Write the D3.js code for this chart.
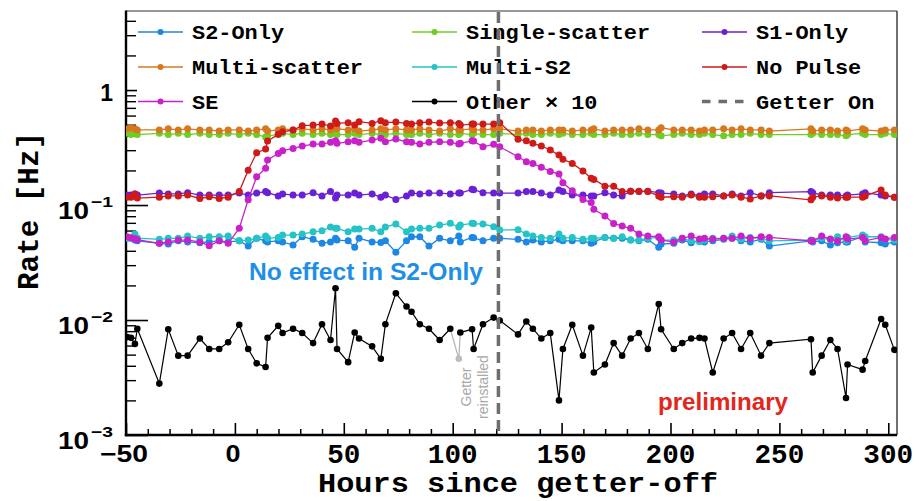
<!DOCTYPE html>
<html>
<head>
<meta charset="utf-8">
<script src="https://cdn.jsdelivr.net/npm/d3@7"></script>
<style>
  html, body { margin: 0; padding: 0; background: #fff; }
  svg { display: block; }
</style>
</head>
<body>
<svg id="chart" width="919" height="501"></svg>
<script>
// Hours since the getter was switched off, shared by every event class
const hours = [
  -49.5, -47.7, -45.9, -44.8, -34.7, -30.6, -26.0, -21.7, -16.1, -11.8,
  -7.2, -3.1, 2.0, 6.1, 10.0, 14.1, 15.0, 19.9, 21.9, 26.7,
  30.9, 35.9, 40.0, 43.9, 46.2, 46.9, 52.0, 55.0, 57.0, 63.0,
  67.0, 69.1, 73.9, 78.8, 81.1, 84.9, 89.1, 94.0, 98.9, 102.8,
  103.5, 108.9, 109.6, 113.9, 118.8, 121.6, 130.0, 133.8, 136.8, 140.7,
  144.8, 148.8, 150.6, 154.9, 159.8, 163.6, 164.8, 169.9, 173.9, 177.8,
  181.7, 185.5, 189.6, 194.6, 195.7, 201.5, 205.4, 209.5, 213.3, 215.6,
  219.4, 224.4, 228.3, 232.4, 236.6, 241.6, 245.4, 264.5, 265.3, 269.4,
  273.4, 276.7, 280.6, 281.3, 288.2, 289.4, 296.7, 298.6, 302.8
];

// Rates in Hz
const s2Only = [
  0.0513, 0.0513, 0.0496, 0.0488, 0.0465, 0.0458, 0.0488, 0.0478, 0.0470, 0.0478,
  0.0488, 0.0478, 0.0488, 0.0440, 0.0513, 0.0488, 0.0478, 0.0488, 0.0478, 0.0449,
  0.0530, 0.0503, 0.0465, 0.0478, 0.0513, 0.0496, 0.0488, 0.0429, 0.0513, 0.0478,
  0.0472, 0.0488, 0.0389, 0.0488, 0.0530, 0.0530, 0.0440, 0.0513, 0.0488, 0.0537,
  0.0478, 0.0523, 0.0520, 0.0488, 0.0513, 0.0513, 0.0503, 0.0478, 0.0496, 0.0478,
  0.0488, 0.0503, 0.0488, 0.0488, 0.0488, 0.0465, 0.0478, 0.0523, 0.0513, 0.0513,
  0.0496, 0.0488, 0.0503, 0.0429, 0.0458, 0.0465, 0.0496, 0.0470, 0.0488, 0.0478,
  0.0488, 0.0503, 0.0513, 0.0488, 0.0478, 0.0503, 0.0440, 0.0488, 0.0478, 0.0488,
  0.0449, 0.0470, 0.0478, 0.0478, 0.0530, 0.0478, 0.0470, 0.0458, 0.0478
];
const singleScatter = [
  0.42, 0.41, 0.42, 0.41, 0.42, 0.41, 0.42, 0.41, 0.42, 0.41,
  0.41, 0.42, 0.41, 0.42, 0.41, 0.39, 0.40, 0.41, 0.42, 0.41,
  0.42, 0.41, 0.42, 0.41, 0.42, 0.41, 0.41, 0.42, 0.41, 0.42,
  0.41, 0.41, 0.42, 0.41, 0.41, 0.42, 0.41, 0.42, 0.41, 0.41,
  0.42, 0.41, 0.42, 0.41, 0.41, 0.42, 0.41, 0.42, 0.41, 0.41,
  0.42, 0.41, 0.42, 0.41, 0.41, 0.42, 0.41, 0.41, 0.42, 0.41,
  0.41, 0.42, 0.41, 0.41, 0.40, 0.41, 0.42, 0.41, 0.41, 0.42,
  0.41, 0.40, 0.41, 0.41, 0.42, 0.41, 0.41, 0.41, 0.42, 0.41,
  0.41, 0.41, 0.40, 0.41, 0.42, 0.41, 0.41, 0.42, 0.41
];
const s1Only = [
  0.122, 0.122, 0.125, 0.122, 0.127, 0.125, 0.125, 0.128, 0.122, 0.122,
  0.122, 0.122, 0.127, 0.122, 0.127, 0.131, 0.128, 0.120, 0.125, 0.122,
  0.122, 0.128, 0.120, 0.131, 0.115, 0.122, 0.122, 0.127, 0.122, 0.125,
  0.117, 0.122, 0.112, 0.120, 0.127, 0.125, 0.127, 0.127, 0.125, 0.127,
  0.127, 0.137, 0.136, 0.128, 0.127, 0.127, 0.127, 0.131, 0.131, 0.127,
  0.122, 0.135, 0.131, 0.122, 0.122, 0.120, 0.120, 0.128, 0.122, 0.120,
  0.132, 0.131, 0.132, 0.128, 0.127, 0.125, 0.120, 0.125, 0.120, 0.125,
  0.125, 0.120, 0.125, 0.120, 0.128, 0.120, 0.128, 0.131, 0.128, 0.122,
  0.122, 0.122, 0.120, 0.122, 0.125, 0.128, 0.122, 0.120, 0.117
];
const multiScatter = [
  0.46, 0.47, 0.46, 0.45, 0.45, 0.46, 0.45, 0.46, 0.45, 0.45,
  0.44, 0.45, 0.45, 0.44, 0.45, 0.46, 0.44, 0.45, 0.46, 0.45,
  0.46, 0.45, 0.46, 0.45, 0.47, 0.46, 0.45, 0.46, 0.44, 0.45,
  0.46, 0.45, 0.46, 0.45, 0.45, 0.46, 0.45, 0.44, 0.46, 0.45,
  0.45, 0.46, 0.45, 0.45, 0.46, 0.46, 0.44, 0.45, 0.45, 0.44,
  0.45, 0.45, 0.45, 0.44, 0.45, 0.45, 0.46, 0.44, 0.45, 0.45,
  0.45, 0.46, 0.45, 0.45, 0.47, 0.45, 0.45, 0.45, 0.44, 0.45,
  0.45, 0.46, 0.45, 0.46, 0.45, 0.45, 0.44, 0.46, 0.44, 0.45,
  0.45, 0.44, 0.45, 0.44, 0.46, 0.45, 0.44, 0.45, 0.45
];
const multiS2 = [
  0.0516, 0.0516, 0.0559, 0.0516, 0.0503, 0.0513, 0.0513, 0.0537, 0.0513, 0.0530,
  0.0530, 0.0537, 0.0488, 0.0496, 0.0513, 0.0537, 0.0513, 0.0523, 0.0548, 0.0548,
  0.0559, 0.0585, 0.0597, 0.0644, 0.0627, 0.0627, 0.0585, 0.0618, 0.0618, 0.0627,
  0.0585, 0.0644, 0.0684, 0.0585, 0.0618, 0.0627, 0.0627, 0.0670, 0.0693, 0.0644,
  0.0670, 0.0693, 0.0690, 0.0684, 0.0648, 0.0606, 0.0610, 0.0559, 0.0537, 0.0523,
  0.0513, 0.0559, 0.0513, 0.0523, 0.0503, 0.0513, 0.0513, 0.0523, 0.0513, 0.0530,
  0.0496, 0.0496, 0.0513, 0.0523, 0.0496, 0.0496, 0.0513, 0.0488, 0.0480, 0.0496,
  0.0513, 0.0513, 0.0537, 0.0503, 0.0523, 0.0513, 0.0488, 0.0496, 0.0488, 0.0513,
  0.0503, 0.0530, 0.0488, 0.0523, 0.0548, 0.0530, 0.0530, 0.0503, 0.0496
];
const noPulse = [
  0.117, 0.117, 0.125, 0.115, 0.117, 0.120, 0.120, 0.122, 0.114, 0.118,
  0.114, 0.117, 0.131, 0.201, 0.285, 0.307, 0.360, 0.412, 0.434, 0.449,
  0.490, 0.496, 0.506, 0.488, 0.538, 0.513, 0.520, 0.496, 0.531, 0.513,
  0.541, 0.520, 0.527, 0.513, 0.506, 0.520, 0.527, 0.516, 0.520, 0.513,
  0.496, 0.506, 0.506, 0.506, 0.506, 0.520, 0.373, 0.362, 0.344, 0.326,
  0.301, 0.272, 0.250, 0.230, 0.198, 0.171, 0.167, 0.146, 0.146, 0.131,
  0.132, 0.132, 0.131, 0.120, 0.117, 0.118, 0.117, 0.122, 0.117, 0.117,
  0.118, 0.120, 0.122, 0.117, 0.113, 0.120, 0.120, 0.111, 0.117, 0.120,
  0.117, 0.115, 0.117, 0.117, 0.117, 0.120, 0.135, 0.122, 0.117
];
const singleElectron = [
  0.0530, 0.0520, 0.0510, 0.0500, 0.0465, 0.0478, 0.0496, 0.0496, 0.0478, 0.0442,
  0.0488, 0.0465, 0.0627, 0.111, 0.176, 0.209, 0.247, 0.281, 0.297, 0.311,
  0.326, 0.339, 0.339, 0.351, 0.362, 0.344, 0.355, 0.362, 0.351, 0.367,
  0.380, 0.355, 0.375, 0.355, 0.351, 0.339, 0.351, 0.355, 0.351, 0.339,
  0.344, 0.362, 0.360, 0.321, 0.337, 0.321, 0.263, 0.238, 0.230, 0.213,
  0.196, 0.186, 0.156, 0.133, 0.112, 0.105, 0.092, 0.0802, 0.0692, 0.0657,
  0.0627, 0.0559, 0.0537, 0.0530, 0.0496, 0.0478, 0.0513, 0.0537, 0.0506, 0.0513,
  0.0506, 0.0513, 0.0513, 0.0537, 0.0513, 0.0530, 0.0523, 0.0488, 0.0488, 0.0537,
  0.0506, 0.0488, 0.0530, 0.0506, 0.0523, 0.0488, 0.0523, 0.0506, 0.0523
];
// "Other" class, already multiplied by 10
const otherX10 = [
  0.0071, 0.0070, 0.0062, 0.0084, 0.0028, 0.0083, 0.0049, 0.0049, 0.0069, 0.0056,
  0.0056, 0.0064, 0.0091, 0.0056, 0.0042, 0.0039, 0.0070, 0.0089, 0.0077, 0.0084,
  0.0077, 0.0063, 0.0092, 0.0067, 0.0189, 0.0056, 0.0043, 0.0078, 0.0069, 0.0059,
  0.0046, 0.0092, 0.0171, 0.0131, 0.0118, 0.0092, 0.0084, 0.0067, 0.0084, 0.0046,
  0.0078, 0.0083, 0.0056, 0.0092, 0.0105, 0.0099, 0.0075, 0.0097, 0.0084, 0.0069,
  0.0077, 0.0020, 0.0056, 0.0091, 0.0049, 0.0086, 0.0035, 0.0041, 0.0063, 0.0049,
  0.0069, 0.0077, 0.0056, 0.0138, 0.0083, 0.0056, 0.0063, 0.0069, 0.0070, 0.0069,
  0.0035, 0.0069, 0.0077, 0.0056, 0.0077, 0.0049, 0.0063, 0.0068, 0.0035, 0.0049,
  0.0067, 0.0056, 0.0021, 0.0041, 0.0037, 0.0044, 0.0102, 0.0091, 0.0055
];
// index of the run taken while the getter was being reinstalled
const reinstallIndex = 39;
const getterOnHour = 121;

const xMajorTicks = [-50, 0, 50, 100, 150, 200, 250, 300];
const yMajorTicks = [1e-3, 1e-2, 1e-1, 1];
const yTickExponents = ["\u22123", "\u22122", "\u22121", ""];

const seriesNames = ["S2-Only", "Single-scatter", "S1-Only", "Multi-scatter", "Multi-S2", "No Pulse", "SE"];
const seriesValues = [s2Only, singleScatter, s1Only, multiScatter, multiS2, noPulse, singleElectron];
const seriesColors = ["#1d87e4", "#6fcd26", "#6a20d4", "#d7781f", "#24c3c6", "#cf1a1a", "#c921c9"];

// ---------------------------------------------------------------
const svg = d3.select("#chart");
const L = 126, R = 897, T = 11, B = 435;
const mono = "'Liberation Mono', 'Courier New', monospace";
const sans = "'Liberation Sans', Arial, Helvetica, sans-serif";

const x = d3.scaleLinear().domain([-50, 304]).range([L, R]);
const y = d3.scaleLog().domain([1e-3, 4.87]).range([B, T]);

svg.append("rect").attr("width", 919).attr("height", 501).attr("fill", "#fff");

function label(g, str, px, py, o) {
  const t = g.append("text")
    .attr("x", px).attr("y", py)
    .attr("font-family", o.family || sans)
    .attr("font-size", o.size)
    .attr("font-weight", o.weight || "bold")
    .attr("fill", o.fill || "#000")
    .attr("text-anchor", o.anchor || "start")
    .text(str);
  if (o.length) t.attr("textLength", o.length).attr("lengthAdjust", "spacingAndGlyphs");
  if (o.transform) t.attr("transform", o.transform);
  return t;
}

// ---- axes ----
const xMinor = d3.range(-40, 301, 10).filter(v => v % 50 !== 0);
svg.append("g").attr("transform", `translate(0,${B})`)
  .call(d3.axisBottom(x).tickValues(xMinor).tickSize(-6).tickFormat(""))
  .call(g => g.select(".domain").remove())
  .call(g => g.selectAll("line").attr("stroke", "#000").attr("stroke-width", 1.5));
svg.append("g").attr("transform", `translate(0,${B})`)
  .call(d3.axisBottom(x).tickValues(xMajorTicks).tickSize(-12).tickFormat(""))
  .call(g => g.select(".domain").remove())
  .call(g => g.selectAll("line").attr("stroke", "#000").attr("stroke-width", 1.6));

const yMinor = [];
[-3, -2, -1, 0].forEach(e => { for (let k = 2; k <= 9; k++) { const v = k * Math.pow(10, e); if (v < 4.87) yMinor.push(v); } });
svg.append("g").attr("transform", `translate(${L},0)`)
  .call(d3.axisLeft(y).tickValues(yMinor).tickSize(-10).tickFormat(""))
  .call(g => g.select(".domain").remove())
  .call(g => g.selectAll("line").attr("stroke", "#000").attr("stroke-width", 1.4));
svg.append("g").attr("transform", `translate(${L},0)`)
  .call(d3.axisLeft(y).tickValues(yMajorTicks).tickSize(-22).tickFormat(""))
  .call(g => g.select(".domain").remove())
  .call(g => g.selectAll("line").attr("stroke", "#000").attr("stroke-width", 1.6));

// frame
svg.append("line").attr("x1", L).attr("x2", R).attr("y1", T).attr("y2", T).attr("stroke", "#333").attr("stroke-width", 1.2);
svg.append("line").attr("x1", R).attr("x2", R).attr("y1", T).attr("y2", B).attr("stroke", "#333").attr("stroke-width", 1.4);
svg.append("line").attr("x1", L).attr("x2", L).attr("y1", T - 0.6).attr("y2", B + 1.2).attr("stroke", "#000").attr("stroke-width", 2.4);
svg.append("line").attr("x1", L - 1.2).attr("x2", R).attr("y1", B).attr("y2", B).attr("stroke", "#000").attr("stroke-width", 2.4);

// tick labels
const labels = svg.append("g");
xMajorTicks.forEach(v => {
  const s = v < 0 ? "\u2212" + Math.abs(v) : String(v);
  if (v <= 0) {
    label(labels, s, x(v) - 2, 462, { size: 24, family: sans, anchor: "middle", length: v < 0 ? 48 : 15 });
  } else {
    label(labels, s, x(v), 463, { size: 27, family: mono, anchor: "middle", length: s.length * 16.6 });
  }
});
yMajorTicks.forEach((v, i) => {
  const ty = y(v);
  if (yTickExponents[i] === "") {
    label(labels, "1", 113, ty + 11, { size: 23, anchor: "end" });
  } else {
    label(labels, "10", 58, ty + 13.5, { size: 24, length: 31 });
    label(labels, yTickExponents[i], 91, ty + 2, { size: 15, length: 22 });
  }
});

// axis titles
label(svg, "Hours since getter-off", 518, 492, { size: 27, family: mono, anchor: "middle", length: 400 });
label(svg, "Rate [Hz]", 0, 0, { size: 29, family: mono, anchor: "middle", length: 158, transform: "translate(38,211) rotate(-90)" });

// ---- data ----
svg.append("clipPath").attr("id", "plot-clip")
  .append("rect").attr("x", L).attr("y", T).attr("width", R - L).attr("height", B - T);
const plot = svg.append("g").attr("clip-path", "url(#plot-clip)");

const line = d3.line().x(d => x(d[0])).y(d => y(d[1]));
const pts = vals => hours.map((h, i) => [h, vals[i]]);

seriesValues.forEach((vals, si) => {
  const data = pts(vals);
  const g = plot.append("g");
  g.append("path").attr("d", line(data)).attr("fill", "none")
    .attr("stroke", seriesColors[si]).attr("stroke-width", 1.3);
  g.selectAll("circle").data(data).join("circle")
    .attr("cx", d => x(d[0])).attr("cy", d => y(d[1])).attr("r", 3.5)
    .attr("fill", seriesColors[si]);
});

// Other × 10, with the reinstall run greyed out
{
  const data = pts(otherX10);
  const g = plot.append("g");
  const before = data.slice(0, reinstallIndex);
  const after = data.slice(reinstallIndex + 1);
  const grey = data.slice(reinstallIndex - 1, reinstallIndex + 2);
  g.append("path").attr("d", line(before)).attr("fill", "none").attr("stroke", "#000").attr("stroke-width", 1.2);
  g.append("path").attr("d", line(after)).attr("fill", "none").attr("stroke", "#000").attr("stroke-width", 1.2);
  g.append("path").attr("d", line(grey)).attr("fill", "none").attr("stroke", "#b4b4b4").attr("stroke-width", 1.2);
  g.selectAll("circle").data(data).join("circle")
    .attr("cx", d => x(d[0])).attr("cy", d => y(d[1])).attr("r", 3.3)
    .attr("fill", (d, i) => i === reinstallIndex ? "#bdbdbd" : "#000");
}

// annotations
label(svg, "No effect in S2-Only", 249, 280, { size: 24, fill: "#1f8fe6", length: 234 });
label(svg, "preliminary", 658, 410, { size: 23, fill: "#e3261c", length: 130 });
label(svg, "Getter", 0, 0, { size: 14, weight: "normal", fill: "#a8a8a8", anchor: "middle", transform: "translate(471,387) rotate(-90)" });
label(svg, "reinstalled", 0, 0, { size: 14, weight: "normal", fill: "#a8a8a8", anchor: "middle", transform: "translate(487.5,387) rotate(-90)" });

// ---- legend ----
const legend = svg.append("g");
legend.append("rect").attr("x", 137).attr("y", 13).attr("width", 757).attr("height", 104).attr("fill", "#fff");
const legendCols = [138, 412, 702];
const legendRows = [32, 67, 101.5];
const legendItems = seriesNames.map((n, i) => ({ name: n, color: seriesColors[i], type: "marker" }));
legendItems.push({ name: "Other \u00d7 10", color: "#000", type: "marker" });
legendItems.push({ name: "Getter On", color: "#6e6e6e", type: "dash" });
legendItems.forEach((it, i) => {
  const cx = legendCols[i % 3], cy = legendRows[Math.floor(i / 3)];
  if (it.type === "dash") {
    legend.append("line").attr("x1", cx).attr("x2", cx + 45).attr("y1", cy).attr("y2", cy)
      .attr("stroke", it.color).attr("stroke-width", 3.5).attr("stroke-dasharray", "8.5 8");
  } else {
    legend.append("line").attr("x1", cx).attr("x2", cx + 45).attr("y1", cy).attr("y2", cy)
      .attr("stroke", it.color).attr("stroke-width", 1.3);
    legend.append("circle").attr("cx", cx + 22.5).attr("cy", cy).attr("r", 3).attr("fill", it.color);
  }
  label(legend, it.name, cx + 54, cy + 7, { size: 21, family: mono, length: it.name.length * 13.15 });
});

// getter switched back on
svg.append("line")
  .attr("x1", x(getterOnHour)).attr("x2", x(getterOnHour))
  .attr("y1", T + 1).attr("y2", B - 1)
  .attr("stroke", "#6e6e6e").attr("stroke-width", 3.5).attr("stroke-dasharray", "11 6");
</script>
</body>
</html>
